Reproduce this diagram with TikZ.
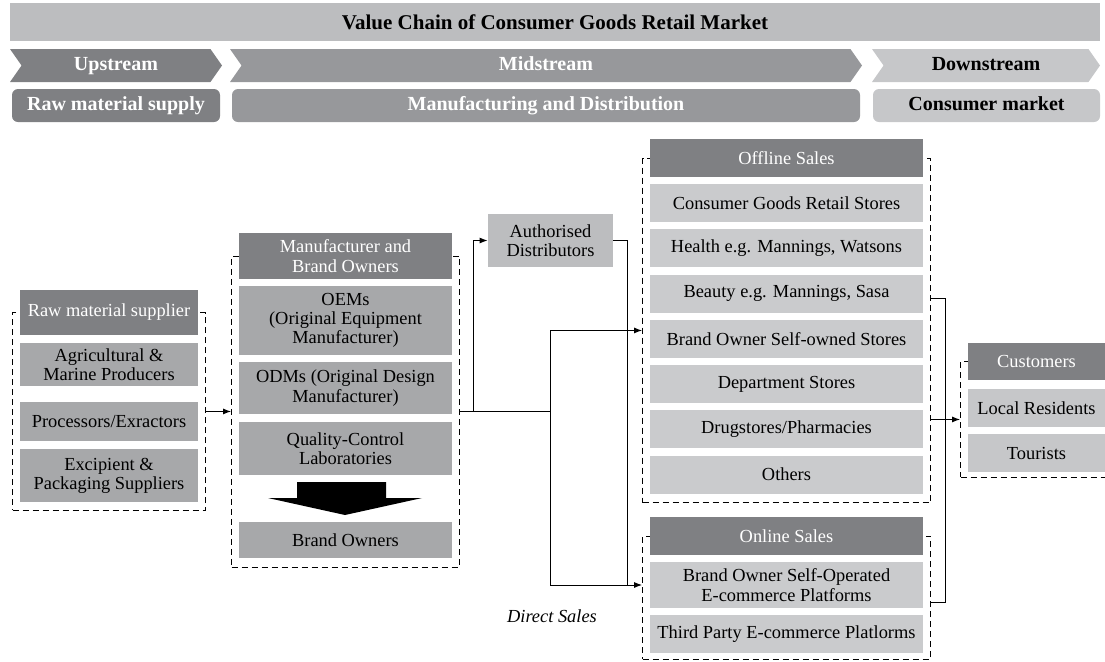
\documentclass[tikz,border=0pt]{standalone}
\usepackage{fontspec}
\setmainfont{Liberation Serif}
\usepackage{tikz}
\usetikzlibrary{calc,fit,backgrounds,shapes.symbols,arrows.meta}

\definecolor{HeadGray}{HTML}{7F8083}
\definecolor{MidGray}{HTML}{A7A8AA}
\definecolor{LiteGray}{HTML}{CACBCD}
\definecolor{BarGray}{HTML}{BCBDBF}
\definecolor{StreamGray}{HTML}{97989B}
\definecolor{DownGray}{HTML}{C6C7C9}

\newcommand\groupframe[4]{% name, header, last box, gap below
  \begin{scope}[on background layer]
    \node[grpframe,fit={($(#2.west)+(-3.5pt,0)$) ($(#3.south -| #2.east)+(3.5pt,-#4)$)}] (#1) {};
  \end{scope}
}

\begin{document}
\begin{tikzpicture}[x=0.5pt,y=-0.5pt]
		\tikzstyle{every node}=[font=\fontsize{9.2}{9.6}\selectfont]
		\tikzstyle{stage}=[signal,signal to=east,signal from=west,signal pointer angle=110,
								minimum height=16.5pt,inner sep=0pt,text height=7pt,text depth=2pt,
								font=\fontsize{10}{12}\selectfont\bfseries]
		\tikzstyle{phase}=[rounded corners=3pt,minimum height=16.5pt,inner sep=0pt,
								text height=7pt,text depth=2pt,
								font=\fontsize{10}{12}\selectfont\bfseries]
		\tikzstyle{headbox}=[fill=HeadGray,text=white,align=center,inner sep=0pt]
		\tikzstyle{midbox}=[fill=MidGray,align=center,inner sep=0pt]
		\tikzstyle{litebox}=[fill=LiteGray,align=center,inner sep=0pt]
		\tikzstyle{grpframe}=[draw,line width=0.5pt,dash pattern=on 3pt off 2pt,inner sep=0pt]
		\tikzstyle{flow}=[line width=0.5pt,-{Latex[length=4pt,width=3pt]}]
		\tikzstyle{link}=[line width=0.5pt]

\useasboundingbox (0,0) rectangle (1105,661);

% title and the three stages
\node[fill=BarGray,minimum width=545pt,minimum height=19pt,inner sep=0pt,
      font=\fontsize{10.5}{12}\selectfont\bfseries] (title) at (555,22) {Value Chain of Consumer Goods Retail Market};

\node[stage,fill=HeadGray,text=white,minimum width=106pt] (upstream) at (116,65.5) {Upstream};
\node[stage,fill=StreamGray,text=white,minimum width=316pt] (midstream) at (546,65.5) {Midstream};
\node[stage,fill=DownGray,minimum width=114pt] (downstream) at (986,65.5) {Downstream};

\node[phase,fill=HeadGray,text=white,minimum width=104pt] (rawsupply) at (116,105.5) {Raw material supply};
\node[phase,fill=StreamGray,text=white,minimum width=314pt] (mfgdist) at (546,105.5) {Manufacturing and Distribution};
\node[phase,fill=DownGray,minimum width=113.5pt] (consmarket) at (986.5,105.5) {Consumer market};

% raw material suppliers
\node[headbox,minimum width=89pt,minimum height=22.5pt] (rawhead) at (109,312.5) {Raw material supplier};
\node[midbox,minimum width=89pt,minimum height=21.5pt] (agri) at (109,364.5) {Agricultural \&\\Marine Producers};
\node[midbox,minimum width=89pt,minimum height=19.5pt] (proc) at (109,421.5) {Processors/Exractors};
\node[midbox,minimum width=89pt,minimum height=26.5pt] (excip) at (109,475.5) {Excipient \&\\Packaging Suppliers};

% manufacturers and brand owners
\node[headbox,minimum width=106.5pt,minimum height=23pt] (mfrhead) at (345.5,256) {Manufacturer and\\Brand Owners};
\node[midbox,minimum width=106.5pt,minimum height=34.5pt] (oem) at (345.5,320.5) {OEMs\\(Original Equipment\\Manufacturer)};
\node[midbox,minimum width=106.5pt,minimum height=26pt] (odm) at (345.5,388) {ODMs (Original Design\\Manufacturer)};
\node[midbox,minimum width=106.5pt,minimum height=26.5pt] (qclab) at (345.5,448.5) {Quality-Control\\Laboratories};
\node[midbox,minimum width=106.5pt,minimum height=18pt] (brand) at (345.5,540) {Brand Owners};

\fill (297,482) -- (386,482) -- (386,498) -- (422,498) -- (345,515) -- (268,498) -- (297,498) -- cycle;

\node[litebox,fill=BarGray,minimum width=62.5pt,minimum height=26.5pt] (distrib) at (550.5,240.5) {Authorised\\Distributors};

% offline and online sales
\node[headbox,minimum width=136.5pt,minimum height=19pt] (offhead) at (786.5,158) {Offline Sales};
\foreach \i/\txt in {0/{Consumer Goods Retail Stores},1/{Health e.g. Mannings, Watsons},
                     2/{Beauty e.g. Mannings, Sasa},3/{Brand Owner Self-owned Stores},
                     4/{Department Stores},5/{Drugstores/Pharmacies},6/{Others}}
{
  \node[litebox,minimum width=136.5pt,minimum height=19pt] (off\i) at (786.5,{203+45.25*\i}) {\txt};
}

\node[headbox,minimum width=136.5pt,minimum height=19pt] (onhead) at (786.5,536) {Online Sales};
\node[litebox,minimum width=136.5pt,minimum height=23pt] (onself) at (786.5,585) {Brand Owner Self-Operated\\E-commerce Platforms};
\node[litebox,minimum width=136.5pt,minimum height=19pt] (onthird) at (786.5,634) {Third Party E-commerce Platlorms};

% customers
\node[headbox,minimum width=68.5pt,minimum height=18.5pt] (custhead) at (1036.5,361.5) {Customers};
\node[litebox,fill=DownGray,minimum width=68.5pt,minimum height=19pt] (local) at (1036.5,408) {Local Residents};
\node[litebox,fill=DownGray,minimum width=68.5pt,minimum height=19pt] (tourist) at (1036.5,453) {Tourists};

\groupframe{rawgrp}{rawhead}{excip}{4pt}
\groupframe{mfrgrp}{mfrhead}{brand}{4.5pt}
\groupframe{offgrp}{offhead}{off6}{4.5pt}
\groupframe{ongrp}{onhead}{onthird}{3pt}
\groupframe{custgrp}{custhead}{tourist}{2.5pt}

% flows between the groups
\coordinate (fork) at (mfrgrp.east -| 473,0);
\coordinate (split) at (mfrgrp.east -| 550,0);
\coordinate (drop) at ($(ongrp.west |- onself)+(-7.5pt,0)$);
\coordinate (gather) at (945,421);

\draw[flow] (rawgrp.east) -- (rawgrp.east -| mfrgrp.west);
\draw[link] (mfrgrp.east) -- (split);
\draw[flow] (fork) |- (distrib.west);
\draw[flow] (split) |- (offgrp.west);
\draw[flow] (split) |- (ongrp.west |- onself);
\draw[link] (distrib.east) -| (drop);

\draw[link] (offgrp.east |- 0,298) -| (gather |- 0,602) -- (ongrp.east |- 0,602);
\draw[flow] (offgrp.east |- custgrp.west) -- (custgrp.west);

\node[font=\fontsize{9.2}{10}\selectfont\itshape] (direct) at (552,616) {Direct Sales};

\end{tikzpicture}
\end{document}
